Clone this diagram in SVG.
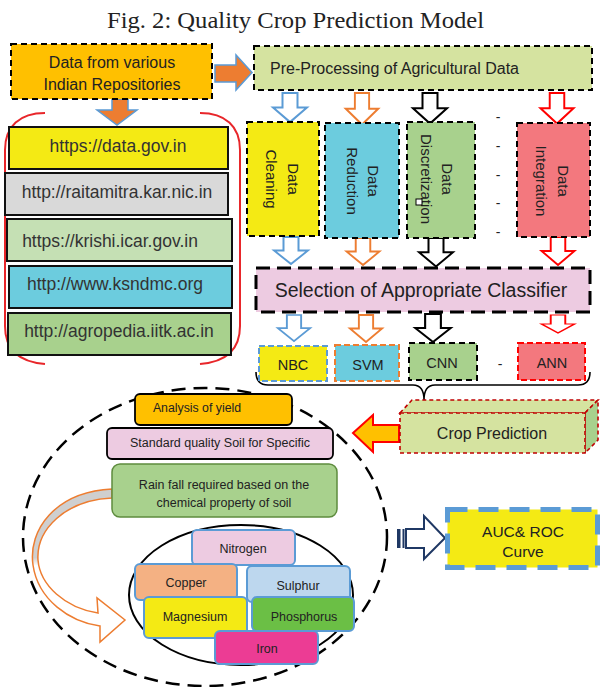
<svg xmlns="http://www.w3.org/2000/svg" width="602" height="687" viewBox="0 0 602 687">
<style>
text{font-family:"Liberation Sans",Arial,sans-serif;fill:#222}
.c{text-anchor:middle}
.title{font-family:"Liberation Serif","Times New Roman",serif;font-size:23px;fill:#222}
.dbox{stroke:#000;stroke-width:2;stroke-dasharray:6 4}
.url{stroke:#111;stroke-width:2}
.urlt{font-size:17.5px;text-anchor:middle;fill:#333}
.rot{font-size:15px;text-anchor:middle;dominant-baseline:central}
.harrow{fill:#fff;stroke-width:2}
.el{stroke:#5B9BD5;stroke-width:2}
.elt{font-size:12.5px;text-anchor:middle}
.dash{font-size:14px;text-anchor:middle}
</style>
<defs>
<path id="darr" d="M-7.5,0 H7.5 V15 H17 L0,30 L-17,15 H-7.5 Z"/>
<linearGradient id="cg" gradientUnits="userSpaceOnUse" x1="0" y1="489" x2="0" y2="626">
<stop offset="0" stop-color="#CFCFCF"/><stop offset="0.5" stop-color="#CFCFCF"/><stop offset="0.56" stop-color="#fff"/><stop offset="1" stop-color="#fff"/>
</linearGradient>
</defs>
<rect width="602" height="687" fill="#fff"/>
<text class="title" x="107" y="28" textLength="377" lengthAdjust="spacingAndGlyphs">Fig. 2: Quality Crop Prediction Model</text>

<g id="connectors">
<path d="M215,65 H236 V55 L252,72.5 L236,90 V82 H215 Z" fill="#ED7D31" stroke="#5B9BD5" stroke-width="1.5"/>
<path d="M112,99 H128 V110 H137 L117,125 L97,110 H112 Z" fill="#ED7D31" stroke="#5B9BD5" stroke-width="1.5"/>
<use href="#darr" transform="translate(290,93) scale(1,0.97)" class="harrow" stroke="#5B9BD5"/>
<use href="#darr" transform="translate(362,93) scale(0.95,1.05)" class="harrow" stroke="#ED7D31"/>
<use href="#darr" transform="translate(430,93) scale(1,1.02)" class="harrow" stroke="#000"/>
<use href="#darr" transform="translate(557,93) scale(0.97,1.02)" class="harrow" stroke="#FF0000"/>
<use href="#darr" transform="translate(291,237) scale(1,0.9)" class="harrow" stroke="#5B9BD5"/>
<use href="#darr" transform="translate(363,238) scale(0.97,0.9)" class="harrow" stroke="#ED7D31"/>
<use href="#darr" transform="translate(436,238) scale(1,0.95)" class="harrow" stroke="#000"/>
<use href="#darr" transform="translate(558,237) scale(0.97,0.93)" class="harrow" stroke="#FF0000"/>
<use href="#darr" transform="translate(294,315) scale(0.95,0.87)" class="harrow" stroke="#5B9BD5"/>
<use href="#darr" transform="translate(366,315) scale(0.95,0.9)" class="harrow" stroke="#ED7D31"/>
<use href="#darr" transform="translate(433,314) scale(1.05,0.93)" class="harrow" stroke="#000"/>
<use href="#darr" transform="translate(558,315) scale(0.97,0.6)" class="harrow" stroke="#FF0000"/>
<path d="M256,372 Q256,385 268,385 H413 Q424,385 424,400 Q424,385 435,385 H578 Q590,385 590,372" fill="none" stroke="#000" stroke-width="1.6"/>
<path d="M353,433 L373,415 V425 H399 V442 H373 V452 Z" fill="#FFC000" stroke="#FF0000" stroke-width="2"/>
<path d="M112,489 C55,492 28,530 33,565 C38,600 70,622 100,626 L100,642 L125,620 L97,598 L98,613 C65,608 40,585 38,560 C36,530 65,500 112,498 Z" fill="url(#cg)" stroke="#ED7D31" stroke-width="1.5"/>
<rect x="397" y="529" width="3.5" height="19" fill="#1F3864"/>
<rect x="402.5" y="529" width="2" height="19" fill="#1F3864"/>
<path d="M406,529 H424 V516 L445,538 L424,559 V548 H406 Z" fill="#fff" stroke="#1F3864" stroke-width="2"/>
</g>

<g id="source">
<rect x="11" y="44" width="201" height="55" fill="#FFC000" class="dbox"/>
<text class="c" x="112" y="68" font-size="16">Data from various</text>
<text class="c" x="112" y="90" font-size="16">Indian Repositories</text>
</g>

<g id="preprocessing">
<rect x="254" y="46" width="338" height="44" fill="#D5E3A0" class="dbox"/>
<text x="270" y="74" font-size="16">Pre-Processing of Agricultural Data</text>
</g>

<g id="repositories">
<path d="M45,113 C20,113 5,126 5,150 V326 C5,350 20,362 45,364 M200,113 C225,113 240,126 240,150 V326 C240,350 225,362 200,364" fill="none" stroke="#E8262A" stroke-width="2"/>
<rect x="9" y="127" width="219" height="42" fill="#F4EA14" class="url"/>
<text class="urlt" x="118" y="152">https://data.gov.in</text>
<rect x="5" y="173" width="223" height="42" fill="#D9D9D9" class="url"/>
<text class="urlt" x="117" y="198">http://raitamitra.kar.nic.in</text>
<rect x="7" y="219" width="225" height="42" fill="#C5E0B4" class="url"/>
<text class="urlt" x="110" y="247">https://krishi.icar.gov.in</text>
<rect x="9" y="266" width="223" height="42" fill="#6CCCDE" class="url"/>
<text class="urlt" x="115" y="290">http://www.ksndmc.org</text>
<rect x="8" y="313" width="223" height="42" fill="#A8D18D" class="url"/>
<text class="urlt" x="119" y="337">http://agropedia.iitk.ac.in</text>
</g>

<g id="cleaning">
<rect x="247" y="122" width="72" height="114" fill="#F4EA14" class="dbox"/>
<g transform="translate(282,179) rotate(90)"><text class="rot" x="0" y="-11">Data</text><text class="rot" x="0" y="11">Cleaning</text></g>
</g>
<g id="reduction">
<rect x="325" y="123" width="74" height="115" fill="#6CCCDE" class="dbox"/>
<g transform="translate(362,181) rotate(90)"><text class="rot" x="0" y="-11">Data</text><text class="rot" x="0" y="10">Reduction</text></g>
</g>
<g id="discretization">
<rect x="407" y="122" width="68" height="116" fill="#A8D18D" class="dbox"/>
<g transform="translate(437,179) rotate(90)"><text class="rot" x="0" y="-10">Data</text><text class="rot" x="0" y="11">Discretization</text></g>
<rect x="416" y="199" width="6" height="6" fill="#fff" stroke="#000" stroke-width="1"/>
</g>
<g id="integration">
<rect x="517" y="123" width="73" height="114" fill="#F3787E" class="dbox"/>
<g transform="translate(552,181) rotate(90)"><text class="rot" x="0" y="-11">Data</text><text class="rot" x="0" y="11">Integration</text></g>
</g>
<g id="ellipsis">
<text class="dash" x="498" y="122">-</text>
<text class="dash" x="498" y="151">-</text>
<text class="dash" x="498" y="180">-</text>
<text class="dash" x="498" y="208">-</text>
<text class="dash" x="498" y="237">-</text>
<text class="dash" x="500" y="369">-</text>
</g>

<g id="selection">
<rect x="256" y="268" width="334" height="44" fill="#EDCBE1" stroke="#000" stroke-width="3" stroke-dasharray="14 7"/>
<text class="c" x="421" y="297" font-size="19.5">Selection of Appropriate Classifier</text>
</g>

<g id="nbc">
<rect x="259" y="346" width="68" height="35" fill="#F4EA14" stroke="#5B9BD5" stroke-width="2" stroke-dasharray="6 3"/>
<text class="c" x="293" y="370" font-size="14.5">NBC</text>
</g>
<g id="svm">
<rect x="335" y="345" width="64" height="36" fill="#6CCCDE" stroke="#ED7D31" stroke-width="2" stroke-dasharray="6 3"/>
<text class="c" x="368" y="370" font-size="14.5">SVM</text>
</g>
<g id="cnn">
<rect x="409" y="343" width="68" height="37" fill="#A8D18D" class="dbox"/>
<text class="c" x="442" y="368" font-size="14.5">CNN</text>
</g>
<g id="ann">
<rect x="518" y="343" width="67" height="37" fill="#F3787E" stroke="#FF0000" stroke-width="2" stroke-dasharray="6 3"/>
<text class="c" x="552" y="368" font-size="14.5">ANN</text>
</g>

<g id="crop-prediction">
<path d="M400,413 L412,400 H598 L585,413 Z" fill="#D5E3A0" stroke="#C00000" stroke-width="1.6" stroke-dasharray="4 3"/>
<path d="M585,413 L598,400 V440 L585,453 Z" fill="#A8D18D" stroke="#C00000" stroke-width="1.6" stroke-dasharray="4 3"/>
<rect x="400" y="413" width="185" height="40" fill="#D5E3A0" stroke="#C00000" stroke-width="1.6" stroke-dasharray="4 3"/>
<text class="c" x="492" y="439" font-size="16">Crop Prediction</text>
</g>

<g id="quality-analysis">
<ellipse cx="205" cy="537" rx="182" ry="149" fill="none" stroke="#000" stroke-width="2.5" stroke-dasharray="14 8"/>
</g>
<g id="soil-elements">
<ellipse cx="241" cy="595" rx="112" ry="70" fill="none" stroke="#000" stroke-width="2"/>
</g>

<g id="analysis-yield">
<rect x="135" y="394" width="157" height="31" rx="5" fill="#FFC000" stroke="#000" stroke-width="1.8"/>
<text class="c" x="197" y="412" font-size="12.3">Analysis of yield</text>
</g>
<g id="standard-soil">
<rect x="107" y="428" width="226" height="31" rx="5" fill="#EDCBE1" stroke="#000" stroke-width="1.8"/>
<text class="c" x="220" y="447" font-size="12.5">Standard quality Soil for Specific</text>
</g>
<g id="rainfall">
<rect x="112" y="464" width="225" height="53" rx="8" fill="#A8D18D" stroke="#5E8C3E" stroke-width="1.5"/>
<text class="c" x="224" y="489" font-size="12.5">Rain fall required based on the</text>
<text class="c" x="224" y="507" font-size="12.5">chemical property of soil</text>
</g>

<g id="nitrogen"><rect x="192" y="530" width="103" height="35" rx="5" fill="#EDCBE1" class="el"/><text class="elt" x="243" y="553">Nitrogen</text></g>
<g id="copper"><rect x="135" y="564" width="102" height="36" rx="5" fill="#F4B183" class="el"/><text class="elt" x="186" y="587">Copper</text></g>
<g id="sulphur"><rect x="247" y="566" width="103" height="36" rx="5" fill="#BDD7EE" class="el"/><text class="elt" x="298" y="590">Sulphur</text></g>
<g id="magnesium"><rect x="144" y="597" width="103" height="41" rx="5" fill="#F4EA14" class="el"/><text class="elt" x="195" y="621">Magnesium</text></g>
<g id="phosphorus"><rect x="252" y="597" width="102" height="34" rx="5" fill="#6BBF45" class="el"/><text class="elt" x="304" y="621">Phosphorus</text></g>
<g id="iron"><rect x="215" y="631" width="103" height="33" rx="5" fill="#EC3C94" class="el"/><text class="elt" x="267" y="653">Iron</text></g>

<g id="auc-roc">
<rect x="447.5" y="509.5" width="150" height="58" fill="#F4EA14" stroke="#5B9BD5" stroke-width="5" stroke-dasharray="20 11"/>
<text class="c" x="523" y="537" font-size="15.5">AUC&amp; ROC</text>
<text class="c" x="523" y="557" font-size="15.5">Curve</text>
</g>
</svg>
